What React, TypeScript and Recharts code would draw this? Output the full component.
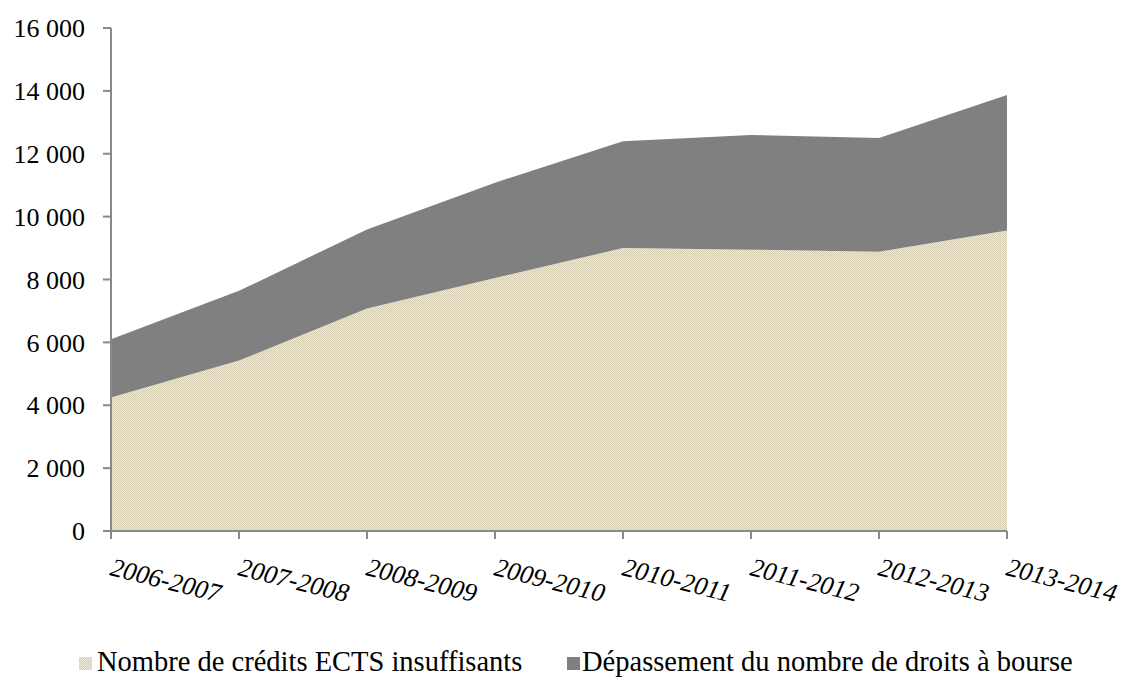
import React from 'react';
import { AreaChart, Area, XAxis, YAxis, Legend } from 'recharts';

const categories = ['2006-2007', '2007-2008', '2008-2009', '2009-2010', '2010-2011', '2011-2012', '2012-2013', '2013-2014'];
const ectsValues = [4250, 5420, 7080, 8050, 9000, 8950, 8880, 9560];
const depassementValues = [1850, 2220, 2510, 3030, 3400, 3650, 3620, 4310];
const yTicks = [0, 2000, 4000, 6000, 8000, 10000, 12000, 14000, 16000];
const seriesNames = ['Nombre de crédits ECTS insuffisants', 'Dépassement du nombre de droits à bourse'];

const data = categories.map((c, i) => ({ year: c, ects: ectsValues[i], dep: depassementValues[i] }));

const FONT = '"Liberation Serif", "Times New Roman", serif';
const AXIS = '#898989';

const fmt = (v: number) => String(v).replace(/\B(?=(\d{3})+(?!\d))/g, '\u00a0');

const XTick = (props: any) => {
  const { x, y, payload } = props;
  return (
    <g transform={`translate(${x - 2},${y + 34})`}>
      <text transform="rotate(14)" textAnchor="start" fontStyle="italic" fontSize={26} fontFamily={FONT} fill="#000">
        {payload.value}
      </text>
    </g>
  );
};

const markerBeige = 'repeating-conic-gradient(#d6cfb3 0% 25%, #ece8d9 0% 50%) 0 0 / 2px 2px';

const LegendContent = () => (
  <div style={{ position: 'relative', width: 1122, height: 34, fontFamily: FONT, fontSize: 28.5, color: '#000' }}>
    <span style={{ position: 'absolute', left: 79, top: 12, width: 13, height: 13, background: markerBeige }} />
    <span style={{ position: 'absolute', left: 97, top: 2, lineHeight: '30px', whiteSpace: 'nowrap' }}>{seriesNames[0]}</span>
    <span style={{ position: 'absolute', left: 567, top: 12, width: 13, height: 13, background: '#808080' }} />
    <span style={{ position: 'absolute', left: 582, top: 2, lineHeight: '30px', whiteSpace: 'nowrap' }}>{seriesNames[1]}</span>
  </div>
);

export default function App() {
  return (
    <div style={{ position: 'absolute', left: 0, top: 0, width: 1122, height: 679, background: '#fff' }}>
      <AreaChart width={1122} height={679} data={data} margin={{ top: 28, right: 115, bottom: 34, left: 0 }}>
        <defs>
          <pattern id="beige" width="2" height="2" patternUnits="userSpaceOnUse">
            <rect width="2" height="2" fill="#ece8d9" />
            <rect x="0" y="0" width="1" height="1" fill="#d6cfb3" />
            <rect x="1" y="1" width="1" height="1" fill="#d6cfb3" />
          </pattern>
        </defs>
        <XAxis
          dataKey="year"
          height={80}
          interval={0}
          tick={<XTick />}
          tickSize={8}
          axisLine={{ stroke: AXIS, strokeWidth: 2 }}
          tickLine={{ stroke: AXIS, strokeWidth: 2 }}
        />
        <YAxis
          width={111}
          domain={[0, 16000]}
          ticks={yTicks}
          interval={0}
          tickFormatter={fmt}
          tickSize={8}
          tickMargin={18}
          tick={{ fill: '#000', fontSize: 26, fontFamily: FONT }}
          axisLine={{ stroke: AXIS, strokeWidth: 2 }}
          tickLine={{ stroke: AXIS, strokeWidth: 2 }}
        />
        <Area type="linear" dataKey="ects" name={seriesNames[0]} stackId="1" stroke="none" fill="url(#beige)" fillOpacity={1} isAnimationActive={false} />
        <Area type="linear" dataKey="dep" name={seriesNames[1]} stackId="1" stroke="none" fill="#808080" fillOpacity={1} isAnimationActive={false} />
        <Legend verticalAlign="bottom" height={34} content={<LegendContent />} wrapperStyle={{ bottom: 0, left: 0, width: 1122 }} />
      </AreaChart>
    </div>
  );
}
